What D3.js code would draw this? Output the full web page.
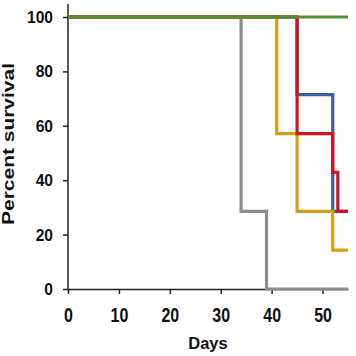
<!DOCTYPE html>
<html>
<head>
<meta charset="utf-8">
<script src="https://cdn.jsdelivr.net/npm/d3@7"></script>
<style>
  html, body { margin: 0; padding: 0; background: #fff; }
  svg { display: block; }
  text { font-family: "Liberation Sans", Arial, Helvetica, sans-serif; font-weight: bold; fill: #111; }
</style>
</head>
<body>
<svg id="chart" width="356" height="356"></svg>
<script>
// ---- data ----
const seriesNames = ["grey", "blue", "yellow", "red", "green"];
const greyDays   = [0, 34, 39, 55];
const greyPct    = [100, 28.57, 0, 0];
const blueDays   = [0, 45, 52, 55];
const bluePct    = [100, 71.43, 28.57, 28.57];
const yellowDays = [0, 41, 45, 52, 55];
const yellowPct  = [100, 57.14, 28.57, 14.29, 14.29];
const redDays    = [0, 45, 52, 53, 55];
const redPct     = [100, 57.14, 42.86, 28.57, 28.57];
const greenDays  = [0, 55];
const greenPct   = [100, 100];
const xTicks = [0, 10, 20, 30, 40, 50];
const yTicks = [0, 20, 40, 60, 80, 100];
const xTitle = "Days";
const yTitle = "Percent survival";

const colors = {
  grey: "#8d8d8d", blue: "#3b5ea6", yellow: "#d4a013", red: "#d0141c", green: "#548e35"
};

const series = [
  { name: "grey",   days: greyDays,   pct: greyPct },
  { name: "blue",   days: blueDays,   pct: bluePct },
  { name: "yellow", days: yellowDays, pct: yellowPct },
  { name: "red",    days: redDays,    pct: redPct },
  { name: "green",  days: greenDays,  pct: greenPct }
];

// ---- layout ----
const svg = d3.select("#chart");
const x = d3.scaleLinear().domain([0, 55]).range([68, 348]);
const y = d3.scaleLinear().domain([0, 100]).range([289, 17]);

// x axis
const gx = svg.append("g").attr("transform", `translate(0,${y(0)})`)
  .call(d3.axisBottom(x).tickValues(xTicks).tickSize(5).tickSizeOuter(0));
gx.select(".domain").attr("stroke", "#222").attr("stroke-width", 1.5);
gx.selectAll(".tick line").attr("stroke", "#222").attr("stroke-width", 1.5);
gx.selectAll(".tick text")
  .attr("y", 25.8).attr("dy", 0)
  .attr("transform", "scale(1,1.27)")
  .style("font-size", "16px")
  .style("font-family", '"Liberation Sans", Arial, sans-serif')
  .style("font-weight", "bold")
  .attr("fill", "#111");

// y axis
const gy = svg.append("g").attr("transform", `translate(${x(0)},0)`)
  .call(d3.axisLeft(y).tickValues(yTicks).tickSize(5).tickSizeOuter(0));
gy.select(".domain")
  .attr("d", `M0,${y(0)}V${y(104.8)}`)
  .attr("stroke", "#222").attr("stroke-width", 1.5);
gy.selectAll(".tick line").attr("stroke", "#222").attr("stroke-width", 1.5);
gy.selectAll(".tick text")
  .attr("x", -15).attr("dy", "0.35em")
  .style("font-size", "15.6px")
  .style("font-family", '"Liberation Sans", Arial, sans-serif')
  .style("font-weight", "bold")
  .attr("fill", "#111");

// titles
svg.append("text")
  .attr("x", (x(0) + x(55)) / 2).attr("y", 349)
  .attr("text-anchor", "middle")
  .style("font-size", "16.5px")
  .text(xTitle);

svg.append("text")
  .attr("transform", `translate(13.5,144) rotate(-90)`)
  .attr("text-anchor", "middle")
  .attr("textLength", 162)
  .attr("lengthAdjust", "spacingAndGlyphs")
  .style("font-size", "16px")
  .text(yTitle);

// survival curves
const line = d3.line()
  .x(d => x(d[0])).y(d => y(d[1]))
  .curve(d3.curveStepAfter);

svg.append("g").selectAll("path")
  .data(series)
  .join("path")
  .attr("d", s => line(s.days.map((d, i) => [d, s.pct[i]])))
  .attr("fill", "none")
  .attr("stroke", s => colors[s.name])
  .attr("stroke-width", 3.2)
  .attr("stroke-linejoin", "miter")
  .attr("stroke-linecap", "butt");
</script>
</body>
</html>
